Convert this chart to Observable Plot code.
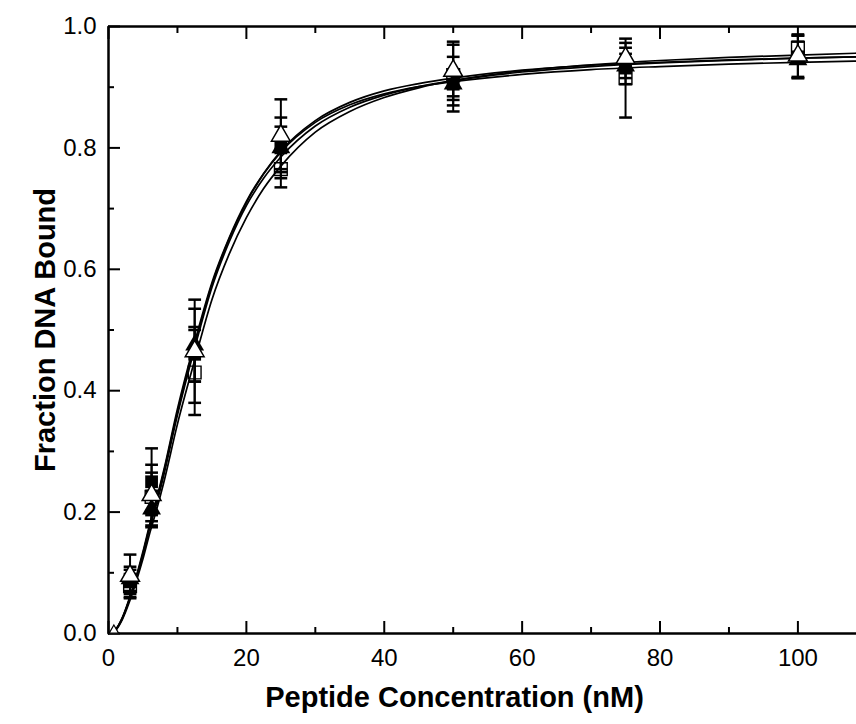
<!DOCTYPE html>
<html>
<head>
<meta charset="utf-8">
<script src="https://cdn.jsdelivr.net/npm/d3@7"></script>
<script src="https://cdn.jsdelivr.net/npm/@observablehq/plot@0.6"></script>
<style>
  html, body { margin: 0; padding: 0; background: #fff; }
</style>
</head>
<body>
<div id="chart"></div>
<script>
// Measured concentrations (nM)
const concX = [3.125, 6.25, 12.5, 25, 50, 75, 100];

// Series values (fraction bound) and error bars
const filledSquare   = [0.085, 0.250, 0.460, 0.800, 0.905, 0.935, 0.950];
const filledSquareE  = [0.020, 0.055, 0.045, 0.050, 0.045, 0.030, 0.035];
const openSquare     = [0.078, 0.225, 0.430, 0.765, 0.920, 0.915, 0.965];
const openSquareE    = [0.020, 0.040, 0.070, 0.030, 0.050, 0.065, 0.020];
const filledTriangle = [0.090, 0.205, 0.475, 0.800, 0.905, 0.935, 0.945];
const filledTriangleE= [0.020, 0.030, 0.060, 0.035, 0.020, 0.020, 0.030];
const openTriangle   = [0.095, 0.228, 0.465, 0.820, 0.927, 0.948, 0.952];
const openTriangleE  = [0.035, 0.050, 0.085, 0.060, 0.048, 0.025, 0.035];

// Extra low point near origin (open triangle)
const originX = [0.78];
const originY = [0.005];

// Fitted curves
const curveX = [0, 1, 2, 3, 4, 5, 6, 7, 8, 10, 12.5, 15, 17.5, 20, 22.5, 25, 30, 35, 40, 45, 50, 60, 70, 80, 90, 100, 108.5];
const curveFS = [0, 0.006, 0.025, 0.055, 0.090, 0.130, 0.175, 0.215, 0.260, 0.360, 0.470, 0.570, 0.645, 0.705, 0.750, 0.785, 0.836, 0.867, 0.887, 0.901, 0.911, 0.925, 0.934, 0.940, 0.944, 0.948, 0.950];
const curveOS = [0, 0.005, 0.023, 0.051, 0.085, 0.123, 0.166, 0.205, 0.248, 0.345, 0.450, 0.550, 0.625, 0.685, 0.733, 0.770, 0.826, 0.860, 0.883, 0.899, 0.911, 0.927, 0.937, 0.944, 0.949, 0.953, 0.956];
const curveFT = [0, 0.006, 0.025, 0.055, 0.091, 0.132, 0.178, 0.220, 0.265, 0.365, 0.475, 0.575, 0.650, 0.710, 0.757, 0.793, 0.842, 0.871, 0.889, 0.901, 0.909, 0.921, 0.929, 0.934, 0.938, 0.941, 0.943];
const curveOT = [0, 0.006, 0.026, 0.057, 0.093, 0.135, 0.181, 0.223, 0.268, 0.370, 0.480, 0.578, 0.652, 0.712, 0.758, 0.795, 0.845, 0.875, 0.894, 0.906, 0.915, 0.928, 0.936, 0.941, 0.945, 0.948, 0.950];

// Tick values
const xMajor = [0, 20, 40, 60, 80, 100];
const xMinor = [10, 30, 50, 70, 90];
const yMajor = [0, 0.2, 0.4, 0.6, 0.8, 1.0];
const yMinor = [0.1, 0.3, 0.5, 0.7, 0.9];

const xTitle = "Peptide Concentration (nM)";
const yTitle = "Fraction DNA Bound";

// Build tables
const seriesDefs = [
  {name: "fs", y: filledSquare, e: filledSquareE},
  {name: "os", y: openSquare, e: openSquareE},
  {name: "ft", y: filledTriangle, e: filledTriangleE},
  {name: "ot", y: openTriangle, e: openTriangleE}
];
const points = [];
for (const s of seriesDefs) {
  concX.forEach((x, i) => points.push({series: s.name, x, y: s.y[i], lo: s.y[i] - s.e[i], hi: s.y[i] + s.e[i]}));
}
const curves = [];
[["fs", curveFS], ["os", curveOS], ["ft", curveFT], ["ot", curveOT]].forEach(([name, arr]) => {
  curveX.forEach((x, i) => curves.push({series: name, x, y: arr[i]}));
});
const originPts = originX.map((x, i) => ({x, y: originY[i]}));

const capSymbol = {
  draw(context, size) {
    const w = Math.sqrt(size);
    context.moveTo(-w / 2, 0);
    context.lineTo(w / 2, 0);
  }
};
const bySeries = (n) => points.filter(d => d.series === n);

const chart = Plot.plot({
  width: 856,
  height: 724,
  marginLeft: 108,
  marginRight: 0,
  marginTop: 26,
  marginBottom: 91,
  style: {fontFamily: "'Liberation Sans', Arial, sans-serif", background: "white", color: "black"},
  x: {domain: [0, 108.5]},
  y: {domain: [0, 1.0]},
  marks: [
    // axes: major and minor ticks pointing inward
    Plot.axisX(xMajor, {anchor: "bottom", tickSize: -12, tickPadding: 27, fontSize: 24, strokeWidth: 2, label: null, tickFormat: d => d3.format("d")(d)}),
    Plot.axisX(xMinor, {anchor: "bottom", tickSize: -6, strokeWidth: 2, label: null, tickFormat: () => ""}),
    Plot.axisX(xMajor, {anchor: "top", tickSize: -12, strokeWidth: 2, label: null, tickFormat: () => ""}),
    Plot.axisX(xMinor, {anchor: "top", tickSize: -6, strokeWidth: 2, label: null, tickFormat: () => ""}),
    Plot.axisY(yMajor, {anchor: "left", tickSize: -12, tickPadding: 24, fontSize: 24, strokeWidth: 2, label: null, tickFormat: d3.format(".1f")}),
    Plot.axisY(yMinor, {anchor: "left", tickSize: -6, strokeWidth: 2, label: null, tickFormat: () => ""}),
    // frame lines
    Plot.ruleX([0], {strokeWidth: 2.5}),
    Plot.ruleY([0, 1], {strokeWidth: 2.5}),
    // fitted curves
    Plot.line(curves, {x: "x", y: "y", z: "series", curve: "monotone-x", stroke: "black", strokeWidth: 1.7}),
    // error bars
    Plot.ruleX(points, {x: "x", y1: "lo", y2: "hi", stroke: "black", strokeWidth: 2}),
    Plot.dot(points, {x: "x", y: "hi", symbol: capSymbol, r: 7.2, stroke: "black", strokeWidth: 2.5, fill: "none"}),
    Plot.dot(points, {x: "x", y: "lo", symbol: capSymbol, r: 7.2, stroke: "black", strokeWidth: 2.5, fill: "none"}),
    // markers
    Plot.dot(bySeries("os"), {x: "x", y: "y", symbol: "square", r: 7.2, stroke: "black", strokeWidth: 1.4, fill: "none"}),
    Plot.dot(bySeries("fs"), {x: "x", y: "y", symbol: "square", r: 7.2, fill: "black", stroke: "none"}),
    Plot.dot(bySeries("ft"), {x: "x", y: "y", symbol: "triangle", r: 7, fill: "black", stroke: "none"}),
    Plot.dot(bySeries("ot"), {x: "x", y: "y", symbol: "triangle", r: 7, fill: "white", stroke: "black", strokeWidth: 1.5}),
    Plot.dot(originPts, {x: "x", y: "y", symbol: "triangle", r: 3.5, fill: "white", stroke: "black", strokeWidth: 1.2}),
    // axis titles
    Plot.text([xTitle], {frameAnchor: "bottom", dy: 64, dx: -28, lineAnchor: "middle", textAnchor: "middle", fontSize: 29, fontWeight: "bold", text: d => d}),
    Plot.text([yTitle], {frameAnchor: "left", dx: -63, rotate: -90, textAnchor: "middle", lineAnchor: "middle", fontSize: 29, fontWeight: "bold", text: d => d})
  ]
});
document.getElementById("chart").appendChild(chart);
</script>
</body>
</html>
